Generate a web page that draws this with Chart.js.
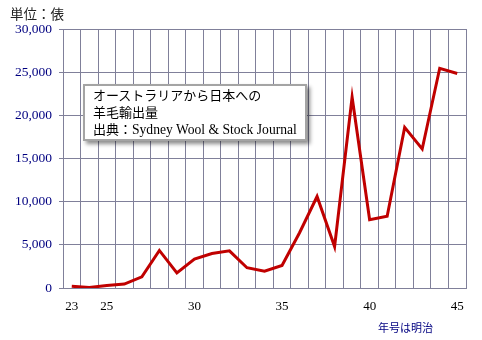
<!DOCTYPE html>
<html lang="ja">
<head>
<meta charset="utf-8">
<script src="https://cdn.jsdelivr.net/npm/chart.js@4"></script>
<style>
  body { margin: 0; background: #fff; }
  #wrap { position: relative; width: 482px; height: 340px; }
  .lbl { position: absolute; white-space: nowrap; font-family: "Noto Sans CJK JP", sans-serif; }
  #unit { left: 10px; top: 4px; font-size: 13.5px; color: #222; line-height: 18px; }
  #era { left: 378px; top: 319px; font-size: 11px; color: #000080; line-height: 16px; }
  #note {
    position: absolute; left: 83px; top: 84px; width: 212px; height: 52px;
    padding: 1px 0 0 8px; background: #fff; border: 2px solid #a4a4a4;
    box-shadow: 3px 3px 4px rgba(0, 0, 0, 0.45);
    font-family: "Liberation Serif", "Noto Sans CJK JP", serif; font-size: 13px;
    line-height: 17px; color: #000; white-space: nowrap;
  }
  #note span { font-size: 13.6px; }
</style>
</head>
<body>
<div id="wrap">
  <canvas id="grafico" width="482" height="340"></canvas>
  <div class="lbl" id="unit">単位：俵</div>
  <div class="lbl" id="era">年号は明治</div>
  <div id="note">オーストラリアから日本への<br>羊毛輸出量<br>出典：<span>Sydney Wool &amp; Stock Journal</span></div>
</div>
<script>
// 明治23年〜45年
const anos = [23, 24, 25, 26, 27, 28, 29, 30, 31, 32, 33, 34, 35, 36, 37, 38, 39, 40, 41, 42, 43, 44, 45];
// 羊毛輸出量（俵）
const fardos = [200, 50, 300, 450, 1300, 4350, 1750, 3350, 4000, 4300, 2350, 1950, 2600, 6400, 10600, 4800, 22100, 7900, 8300, 18600, 16100, 25450, 24850];
const anosVisiveis = [23, 25, 30, 35, 40, 45];

const corGrade = "#80809a";

const ctx = document.getElementById("grafico").getContext("2d");
const chart = new Chart(ctx, {
  type: "line",
  data: {
    labels: anos,
    datasets: [
      {
        data: fardos,
        borderColor: "#c00000",
        borderWidth: 3,
        pointRadius: 0,
        tension: 0,
        fill: false,
      },
    ],
  },
  options: {
    responsive: false,
    animation: false,
    layout: { padding: { left: 0, top: 29, right: 16, bottom: 0 } },
    plugins: {
      legend: { display: false },
      tooltip: { enabled: false },
    },
    scales: {
      x: {
        type: "category",
        offset: true,
        grid: { offset: true, color: corGrade, lineWidth: 1, drawTicks: false },
        border: { color: corGrade },
        ticks: {
          autoSkip: false,
          maxRotation: 0,
          padding: 11,
          color: "#000",
          font: { family: "'Liberation Serif', serif", size: 13 },
          callback: function (v, i) {
            const a = anos[i];
            return anosVisiveis.includes(a) ? String(a) : "";
          },
        },
        afterFit: (s) => { s.height = 52; },
      },
      y: {
        min: 0,
        max: 30000,
        grid: { color: corGrade, lineWidth: 1, tickLength: 4 },
        border: { color: corGrade },
        ticks: {
          stepSize: 5000,
          padding: 7,
          color: "#000080",
          font: { family: "'Liberation Serif', serif", size: 13.5 },
          callback: (v) => v.toLocaleString("en-US"),
        },
        afterFit: (s) => { s.width = 63; },
      },
    },
  },
});
</script>
</body>
</html>
